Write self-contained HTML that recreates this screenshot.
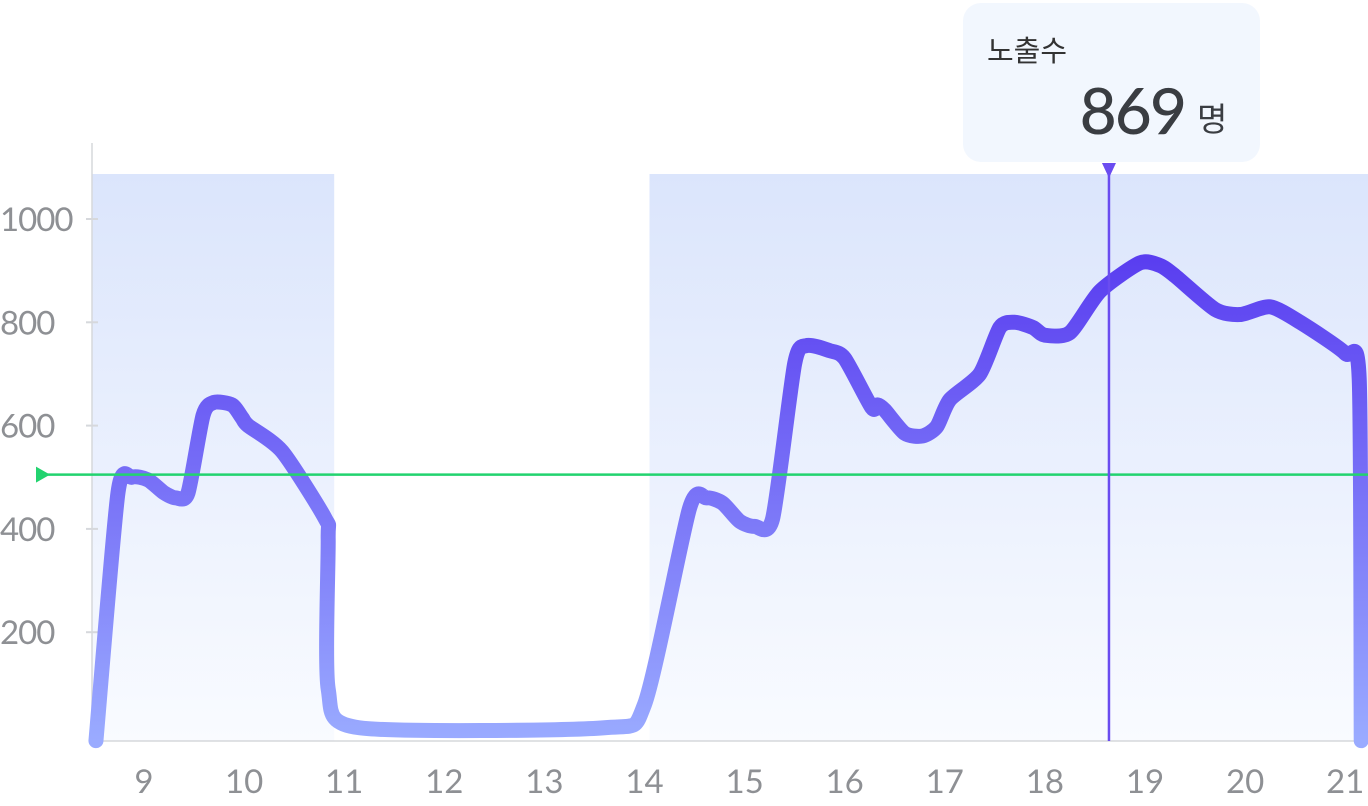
<!DOCTYPE html>
<html><head><meta charset="utf-8"><style>
body{margin:0;background:#fff;}
svg{display:block;font-family:"Lato","Liberation Sans","Noto Sans CJK KR",sans-serif;}
</style></head><body>
<svg id="chart" width="1368" height="806" viewBox="0 0 1368 806">
<defs>
<linearGradient id="bg" x1="0" y1="0" x2="0" y2="1"><stop offset="0" stop-color="#dbe5fc"/><stop offset="1" stop-color="#f9fbff"/></linearGradient>
<linearGradient id="lg" gradientUnits="userSpaceOnUse" x1="0" y1="260" x2="0" y2="741"><stop offset="0" stop-color="#5a3ef0"/><stop offset="1" stop-color="#9aabff"/></linearGradient>
</defs>
<g id="bands"></g>
<line x1="92" y1="143" x2="92" y2="741" stroke="#d6d8dc" stroke-width="1.5"/>
<line x1="92" y1="741" x2="1368" y2="741" stroke="#d6d8dc" stroke-width="1.5"/>
<g id="yticks"></g><g id="xticks"></g>
<path id="line" fill="none" stroke="url(#lg)" stroke-width="15" stroke-linejoin="round" stroke-linecap="round"/>
<g id="avg"></g>
<g id="cursor"></g>
<g>
<rect x="963" y="3" width="297" height="159" rx="18" fill="#f2f7fe"/>
<text x="987" y="61" font-size="29" fill="#333">노출수</text>
<text x="1185" y="134" font-size="64" fill="#3a3d42" text-anchor="end" font-weight="500" letter-spacing="-2">869</text>
<text x="1197" y="131" font-size="33" fill="#3a3d42">명</text>
</g>
</svg>
<script>
const hours=[9,10,11,12,13,14,15,16,17,18,19,20,21];
const yTicks=[200,400,600,800,1000];
const bands=[[8.48,10.9],[14.05,21.3]];
const ptHours=[8.52,8.74,8.88,9.04,9.2,9.32,9.44,9.59,9.7,9.88,9.98,10.04,10.38,10.81,10.84,10.84,11.15,13.6,14.0,14.45,14.62,14.78,14.95,15.1,15.28,15.5,15.62,15.85,16.0,16.27,16.33,16.4,16.6,16.78,16.92,17.05,17.35,17.55,17.7,17.88,18.0,18.25,18.55,18.95,19.15,19.3,19.7,19.95,20.25,20.55,21.0,21.14,21.16];
const ptValues=[-10,470,500,495,470,460,470,620,645,640,615,600,550,420,380,90,15,15,60,440,460,450,415,405,420,720,755,745,730,635,640,630,585,580,598,650,700,790,800,790,775,780,860,915,910,890,825,815,830,800,740,690,-10];
const avgValue=505;
const cursorHour=18.64;
const X=h=>144+(h-9)*100.1;
const Y=v=>735.5-v*0.5165;
const ns='http://www.w3.org/2000/svg';
function mk(t,a,p){const e=document.createElementNS(ns,t);for(const k in a)e.setAttribute(k,a[k]);p.appendChild(e);return e;}
const bg=document.getElementById('bands');
bands.forEach(b=>{const r=mk('rect',{x:X(b[0]),y:174,width:X(b[1])-X(b[0]),height:567,fill:'url(#bg)'},bg);

});
const yt=document.getElementById('yticks');
yTicks.forEach(v=>{const l=mk('line',{x1:86,x2:98,y1:Y(v),y2:Y(v),stroke:'#d6d8dc','stroke-width':2},yt);


const t=mk('text',{x:0,y:Y(v)+12,'font-size':33,fill:'#8e9094','letter-spacing':'-1'},yt);t.textContent=v;

});
const xt=document.getElementById('xticks');
hours.forEach(h=>{const t=mk('text',{x:X(h),y:793,'font-size':33,fill:'#8e9094','text-anchor':'middle'},xt);t.textContent=h;

});
const P=ptHours.map((h,i)=>[X(h),Math.min(741,Y(ptValues[i]))]);
let d='M'+P[0][0]+','+P[0][1];
for(let i=0;i<P.length-1;i++){const p0=P[i-1]||P[i],p1=P[i],p2=P[i+1],p3=P[i+2]||p2;const k=0.12;
d+=` C${p1[0]+(p2[0]-p0[0])*k},${p1[1]+(p2[1]-p0[1])*k} ${p2[0]-(p3[0]-p1[0])*k},${p2[1]-(p3[1]-p1[1])*k} ${p2[0]},${p2[1]}`;}
document.getElementById('line').setAttribute('d',d);
const av=document.getElementById('avg');const ay=Y(avgValue);
const al=mk('line',{x1:40,x2:1368,y1:ay,y2:ay,stroke:'#22d36f','stroke-width':2.5},av);


const am=mk('path',{d:`M36,${ay-8} L50,${ay} L36,${ay+8}Z`,fill:'#22d36f'},av);


const cu=document.getElementById('cursor');const cx=X(cursorHour);
const cl=mk('line',{x1:cx,x2:cx,y1:165,y2:741,stroke:'#6a4cf0','stroke-width':2.5},cu);


const cm=mk('path',{d:`M${cx-7},163 L${cx+7},163 L${cx},178Z`,fill:'#6a4cf0'},cu);


</script>
</body></html>
